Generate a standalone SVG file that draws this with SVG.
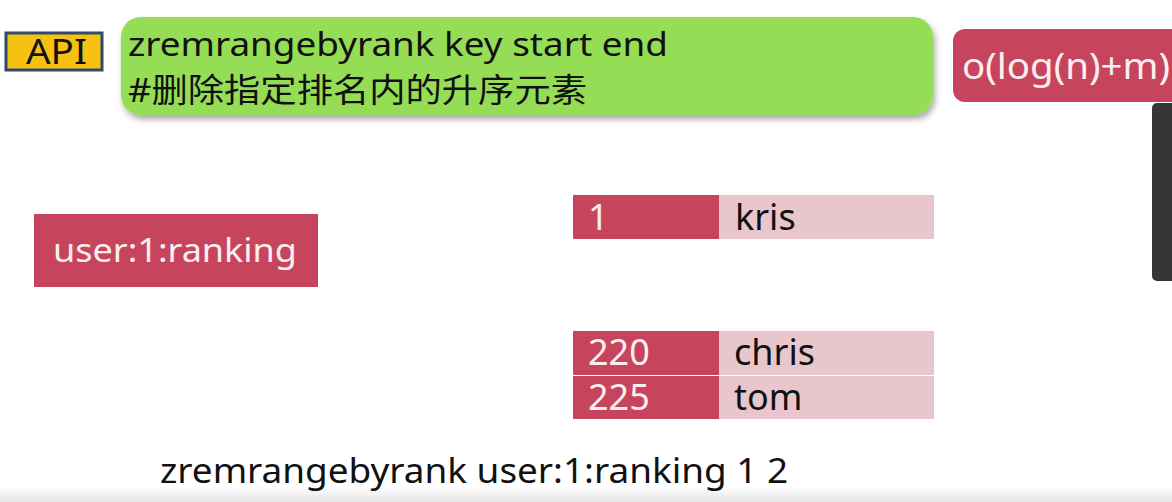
<svg xmlns="http://www.w3.org/2000/svg" width="1172" height="502" viewBox="0 0 1172 502">
<defs>
<filter id="sh" x="-5%" y="-20%" width="110%" height="150%">
<feDropShadow dx="2" dy="4" stdDeviation="3" flood-color="#000" flood-opacity="0.35"/>
</filter>
<linearGradient id="bot" x1="0" y1="0" x2="0" y2="1">
<stop offset="0" stop-color="#ffffff"/>
<stop offset="1" stop-color="#e6e6e6"/>
</linearGradient>
</defs>
<style>
text{font-family:"Noto Sans","Open Sans","Noto Sans CJK SC",sans-serif;}
.dk{fill:#111;}
.wt{fill:#fbeef0;}
.red{fill:#c7455c;}
.pink{fill:#e8c6cb;}
</style>
<rect width="1172" height="502" fill="#ffffff"/>
<rect x="0" y="486" width="1172" height="16" fill="url(#bot)"/>

<g id="api">
<rect x="6" y="33" width="96" height="37" fill="#f5c211" stroke="#2f4a6e" stroke-width="3"/>
<text x="26" y="64" font-size="34" class="dk" textLength="61" lengthAdjust="spacingAndGlyphs">API</text>
</g>

<g id="command">
<rect x="121" y="17" width="812" height="98" rx="20" fill="#95dd55" filter="url(#sh)"/>
<text x="128" y="56" font-size="32" class="dk" textLength="540" lengthAdjust="spacingAndGlyphs">zremrangebyrank key start end</text>
<text x="128" y="102" font-size="33" class="dk" textLength="459" lengthAdjust="spacingAndGlyphs">#删除指定排名内的升序元素</text>
</g>

<g id="complexity">
<rect x="953" y="29" width="240" height="73" rx="12" class="red"/>
<text x="962" y="79" font-size="36" class="wt" textLength="208" lengthAdjust="spacingAndGlyphs">o(log(n)+m)</text>
</g>

<g id="overlay">
<rect x="1152" y="103" width="30" height="178" rx="5" fill="#363636"/>
</g>

<g id="key">
<rect x="34" y="214" width="284" height="73" class="red"/>
<text x="53" y="262" font-size="32" class="wt" textLength="244" lengthAdjust="spacingAndGlyphs">user:1:ranking</text>
</g>

<g id="row-kris">
<rect x="573" y="195" width="146" height="44" class="red"/>
<rect x="719" y="195" width="215" height="44" class="pink"/>
<text x="588" y="230" font-size="36" class="wt">1</text>
<text x="735" y="230" font-size="36" class="dk">kris</text>
</g>

<g id="row-chris">
<rect x="573" y="331" width="146" height="44" class="red"/>
<rect x="719" y="331" width="215" height="44" class="pink"/>
<text x="588" y="365" font-size="36" class="wt">220</text>
<text x="734" y="365" font-size="36" class="dk">chris</text>
</g>

<g id="row-tom">
<rect x="573" y="376" width="146" height="43" class="red"/>
<rect x="719" y="376" width="215" height="43" class="pink"/>
<text x="588" y="410" font-size="36" class="wt">225</text>
<text x="734" y="410" font-size="36" class="dk">tom</text>
</g>

<g id="connectors"></g>

<g id="example">
<text x="160" y="483" font-size="34" class="dk" textLength="628" lengthAdjust="spacingAndGlyphs">zremrangebyrank user:1:ranking 1 2</text>
</g>
</svg>
